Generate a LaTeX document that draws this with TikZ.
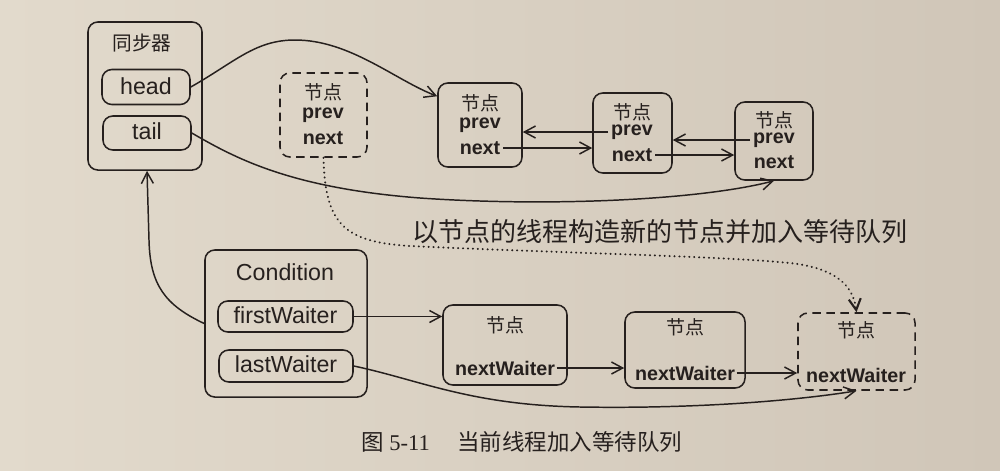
\documentclass[tikz,border=0pt]{standalone}
\usepackage{fontspec}
\setmainfont{Liberation Sans}
\newfontfamily\cjk{Noto Sans CJK SC}
\newfontfamily\serifcap{Liberation Serif}
\usetikzlibrary{arrows.meta,calc}
\definecolor{paperL}{RGB}{226,218,204}
\definecolor{paperR}{RGB}{208,198,184}
\definecolor{ink}{RGB}{38,32,30}
\begin{document}
\begin{tikzpicture}[x=0.025cm,y=-0.025cm,
  box/.style={draw=ink, line width=1.1pt, rounded corners=7pt, inner sep=0pt},
  field/.style={box, rounded corners=7pt},
  dbox/.style={box, dash pattern=on 6pt off 4pt},
  lbl/.style={text=ink, inner sep=0pt, font=\fontsize{16.5}{19}\selectfont},
  blbl/.style={text=ink, inner sep=2pt, font=\bfseries\fontsize{14}{16}\selectfont},
  cj/.style={text=ink, inner sep=0pt, font=\cjk\fontsize{13.5}{16}\selectfont},
  link/.style={draw=ink, line width=1.05pt, -{Straight Barb[length=2.8mm,width=3mm]}},
  dotlink/.style={link, dash pattern=on 0.1pt off 3.4pt, line cap=round, line width=1.5pt}
]
\shade[left color=paperL, right color=paperR] (0,0) rectangle (1000,470);
\useasboundingbox (0,0) rectangle (1000,470);

% synchroniser
\node[box, minimum width=2.85cm, minimum height=3.7cm] (sync) at (145,96) {};
\node[cj, font=\cjk\fontsize{14}{16}\selectfont] (synct) at (142,43) {同步器};
\node[field, minimum width=2.2cm, minimum height=0.875cm] (head) at (146,87) {};
\node[lbl] (headt) at (146,86) {head};
\node[field, minimum width=2.2cm, minimum height=0.85cm] (tail) at (147,133) {};
\node[lbl] (tailt) at (147,131) {tail};

% dashed new node
\node[dbox, minimum width=2.175cm, minimum height=2.1cm] (d) at (323.5,115) {};
\node[cj] (dt) at (323,92) {节点};
\node[blbl] (dprev) at (323,115) {prev};
\node[blbl] (dnext) at (323,138) {next};

% sync queue nodes
\node[box, minimum width=2.1cm, minimum height=2.1cm] (n1) at (480,125) {};
\node[cj] (n1t) at (480,103) {节点};
\node[blbl] (n1prev) at (480,125) {prev};
\node[blbl] (n1next) at (480,148) {next};

\node[box, minimum width=1.975cm, minimum height=2.0cm] (n2) at (632.5,133) {};
\node[cj] (n2t) at (632,112) {节点};
\node[blbl] (n2prev) at (632,132) {prev};
\node[blbl] (n2next) at (632,155) {next};

\node[box, minimum width=1.95cm, minimum height=1.95cm] (n3) at (774,141) {};
\node[cj] (n3t) at (774,120) {节点};
\node[blbl] (n3prev) at (774,140) {prev};
\node[blbl] (n3next) at (774,162) {next};

% condition
\node[box, minimum width=4.05cm, minimum height=3.675cm] (cond) at (286,323.5) {};
\node[lbl] (condt) at (285,272) {Condition};
\node[field, minimum width=3.375cm, minimum height=0.775cm] (fw) at (285.5,316.5) {};
\node[lbl] (fwt) at (285.5,315) {firstWaiter};
\node[field, minimum width=3.35cm, minimum height=0.8cm] (lw) at (286,366) {};
\node[lbl] (lwt) at (286,364.5) {lastWaiter};

% waiter nodes
\node[box, minimum width=3.1cm, minimum height=2.0cm] (w1) at (505,345) {};
\node[cj] (w1t) at (505,325) {节点};
\node[blbl, inner sep=1pt] (w1n) at (505,368) {nextWaiter};

\node[box, minimum width=3.0cm, minimum height=1.9cm] (w2) at (685,350) {};
\node[cj] (w2t) at (685,327) {节点};
\node[blbl, inner sep=1pt] (w2n) at (685,373) {nextWaiter};

\node[dbox, minimum width=2.925cm, minimum height=1.925cm] (w3) at (856.5,351.5) {};
\node[cj] (w3t) at (856,330) {节点};
\node[blbl, inner sep=1pt] (w3n) at (856,375) {nextWaiter};

% label
\node[text=ink, inner sep=0pt, font=\cjk\fontsize{18.5}{20}\selectfont] (lab) at (660,232) {以节点的线程构造新的节点并加入等待队列};

% caption
\node[anchor=west, text=ink, inner sep=0pt, font=\fontsize{16}{18}\selectfont] (cap1) at (361,442) {{\cjk 图}\hspace{4pt}{\serifcap 5-11}};
\node[anchor=west, text=ink, inner sep=0pt, font=\cjk\fontsize{16}{18}\selectfont] (cap2) at (457,442) {当前线程加入等待队列};

% connectors
\draw[link] (head.east) .. controls (235,62) and (255,40) .. (295,40)
  .. controls (350,40) and (395,80) .. ($(n1.north west)+(0,14)$);
\draw[link] (tail.east) .. controls (235,158) and (290,188) .. (420,198)
  .. controls (550,207) and (700,200) .. (n3.south);
\draw[link] (n1next.east) -- (n1next.east -| n2.west);
\draw[link] (n2prev.west) -- (n2prev.west -| n1.east);
\draw[link] (n2next.east) -- (n2next.east -| n3.west);
\draw[link] (n3prev.west) -- (n3prev.west -| n2.east);

\draw[dotlink] (d.south) .. controls (325,225) and (345,242) .. (410,246)
  .. controls (560,253) and (720,256) .. (790,263)
  .. controls (835,268) and (853,285) .. (w3.north);

\draw[link] (fw.east) -- (fw.east -| w1.west);
\draw[link] (w1n.east) -- (w1n.east -| w2.west);
\draw[link] (w2n.east) -- (w2n.east -| w3.west);
\draw[link] (lw.east) .. controls (420,380) and (470,405) .. (580,407)
  .. controls (700,409) and (800,400) .. (w3.south);
\draw[link] (cond.west) .. controls (165,305) and (150,285) .. (149,240)
  -- ($(sync.south)+(2,0)$);
\end{tikzpicture}
\end{document}
